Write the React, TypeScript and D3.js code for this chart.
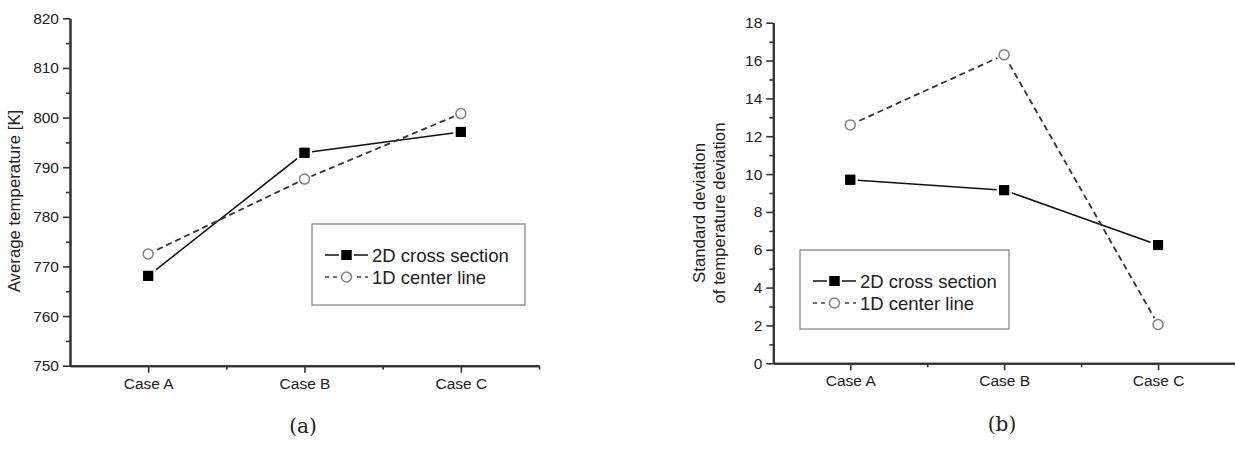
import React, { useRef, useEffect } from "react";
import * as d3 from "d3";

const cases = ["Case A", "Case B", "Case C"];
const seriesNames = ["2D cross section", "1D center line"];

const avgTemp2D = [768.1, 792.9, 797.1];
const avgTemp1D = [772.5, 787.6, 800.8];
const avgTicks = [750, 760, 770, 780, 790, 800, 810, 820];
const avgMinor = [755, 765, 775, 785, 795, 805, 815];

const stdDev2D = [9.7, 9.15, 6.25];
const stdDev1D = [12.6, 16.3, 2.05];
const stdTicks = [0, 2, 4, 6, 8, 10, 12, 14, 16, 18];
const stdMinor = [1, 3, 5, 7, 9, 11, 13, 15, 17];

const FONT = "'Liberation Sans', Arial, sans-serif";
const AXIS = "#333";

const panels = [
  {
    key: "a",
    x0: 70, x1: 539, yTop: 18.3, yBot: 365.7,
    domain: [750, 820], ticks: avgTicks, minor: avgMinor,
    s2d: avgTemp2D, s1d: avgTemp1D,
    label: ["Average temperature [K]"], labelX: [20], labelY: 201,
    legend: { x: 312, y: 224, w: 213, h: 81 },
    caption: "(a)", capX: 303, capY: 433,
  },
  {
    key: "b",
    x0: 773.3, x1: 1235, yTop: 22.7, yBot: 363.3,
    domain: [0, 18], ticks: stdTicks, minor: stdMinor,
    s2d: stdDev2D, s1d: stdDev1D,
    label: ["Standard deviation", "of temperature deviation"], labelX: [705, 725], labelY: 213,
    legend: { x: 800, y: 250, w: 209, h: 79 },
    caption: "(b)", capX: 1002, capY: 431,
  },
];

const App = () => {
  const ref = useRef(null);

  useEffect(() => {
    const svg = d3.select(ref.current);
    svg.selectAll("*").remove();

    panels.forEach((p) => {
      const g = svg.append("g");
      const x = d3.scaleLinear().domain([0.5, 3.5]).range([p.x0, p.x1]);
      const y = d3.scaleLinear().domain(p.domain).range([p.yBot, p.yTop]);

      // y axis
      const ya = g.append("g").attr("transform", `translate(${p.x0},0)`);
      ya.call(d3.axisLeft(y).tickValues(p.minor).tickSize(4).tickSizeOuter(0).tickFormat(() => ""));
      ya.append("g").call(d3.axisLeft(y).tickValues(p.ticks).tickSize(7).tickSizeOuter(0).tickPadding(4));
      // x axis
      const xa = g.append("g").attr("transform", `translate(0,${p.yBot})`);
      xa.call(d3.axisBottom(x).tickValues([1.5, 2.5, 3.5]).tickSize(4).tickSizeOuter(0).tickFormat(() => ""));
      xa.append("g").call(
        d3.axisBottom(x).tickValues([1, 2, 3]).tickSize(7).tickSizeOuter(0).tickPadding(5)
          .tickFormat((d) => cases[Math.round(d) - 1])
      );
      g.selectAll(".domain").attr("stroke", AXIS).attr("stroke-width", 2);
      g.selectAll(".tick line").attr("stroke", AXIS).attr("stroke-width", 1.6);
      g.selectAll(".tick text").attr("fill", "#222").attr("font-size", 15.5).attr("font-family", FONT);

      const line = d3.line().x((d, i) => x(i + 1)).y((d) => y(d));

      g.append("path").datum(p.s2d).attr("fill", "none").attr("stroke", "#111")
        .attr("stroke-width", 1.5).attr("d", line);
      g.append("path").datum(p.s1d).attr("fill", "none").attr("stroke", "#333")
        .attr("stroke-width", 1.8).attr("stroke-dasharray", "6,4").attr("d", line);

      const square = (sel, cx, cy) => {
        sel.append("rect").attr("x", cx - 5).attr("y", cy - 5).attr("width", 10).attr("height", 10)
          .attr("fill", "#000").attr("stroke", "#fff").attr("stroke-width", 5).attr("paint-order", "stroke");
        sel.append("rect").attr("x", cx - 5).attr("y", cy - 5).attr("width", 10).attr("height", 10).attr("fill", "#000");
      };
      const circle = (sel, cx, cy) => {
        sel.append("circle").attr("cx", cx).attr("cy", cy).attr("r", 7.5).attr("fill", "#fff");
        sel.append("circle").attr("cx", cx).attr("cy", cy).attr("r", 5).attr("fill", "#fff")
          .attr("stroke", "#808080").attr("stroke-width", 1.5);
      };

      p.s2d.forEach((v, i) => square(g, x(i + 1), y(v)));
      p.s1d.forEach((v, i) => circle(g, x(i + 1), y(v)));

      // y label
      p.label.forEach((t, i) => {
        g.append("text").attr("transform", `translate(${p.labelX[i]},${p.labelY}) rotate(-90)`)
          .attr("text-anchor", "middle").attr("font-family", FONT).attr("font-size", 16.8)
          .attr("fill", "#222").text(t);
      });

      // legend
      const L = p.legend;
      const lg = g.append("g").attr("transform", `translate(${L.x},${L.y})`);
      lg.append("rect").attr("width", L.w).attr("height", L.h).attr("fill", "#fff")
        .attr("stroke", "#888").attr("stroke-width", 1.3);
      [31, 53].forEach((ry, i) => {
        lg.append("line").attr("x1", 13).attr("x2", 56).attr("y1", ry).attr("y2", ry)
          .attr("stroke", i === 0 ? "#111" : "#444").attr("stroke-width", 1.5)
          .attr("stroke-dasharray", i === 0 ? null : "4,4");
        if (i === 0) square(lg, 34.5, ry);
        else circle(lg, 34.5, ry);
        lg.append("text").attr("x", 60).attr("y", ry + 6.6).attr("font-family", FONT)
          .attr("font-size", 18.5).attr("fill", "#222").text(seriesNames[i]);
      });

      g.append("text").attr("x", p.capX).attr("y", p.capY).attr("text-anchor", "middle")
        .attr("font-family", "'DejaVu Serif', serif").attr("font-size", 20).attr("fill", "#222")
        .text(p.caption);
    });
  }, []);

  return (
    <svg
      ref={ref}
      width={1235}
      height={450}
      style={{ position: "absolute", left: 0, top: 0, background: "#fff" }}
    ></svg>
  );
};

export default App;
